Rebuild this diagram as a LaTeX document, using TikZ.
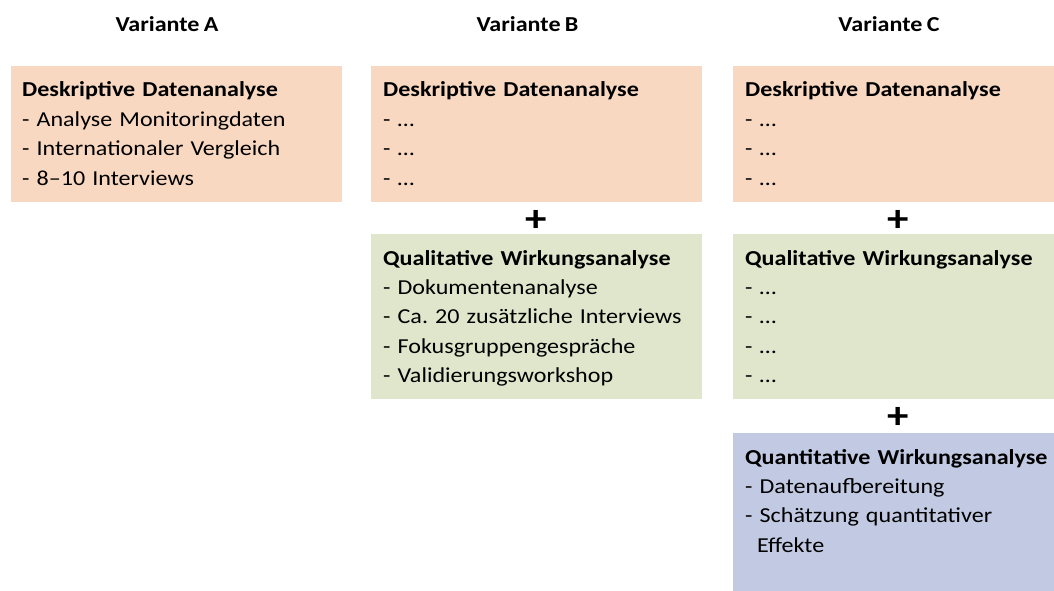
\documentclass[tikz,border=0pt]{standalone}
\usepackage{fontspec}
\setmainfont{Carlito}[FakeStretch=1.13, WordSpace=0.8]
\frenchspacing
\definecolor{peach}{HTML}{F8D8C1}
\definecolor{sage}{HTML}{DFE6CB}
\definecolor{lavender}{HTML}{C1CAE2}
\begin{document}
\begin{tikzpicture}[x=1pt,y=-1pt,
  panel/.style={fill=#1, draw=none, inner sep=0pt, anchor=north west},
  body/.style={inner sep=0pt, anchor=base west, align=left, text width=320pt,
    font=\fontsize{21.3}{29.4}\selectfont},
  heading/.style={inner sep=0pt, anchor=base, font=\fontsize{21.3}{26}\selectfont\bfseries},
  plus/.style={inner sep=0pt, anchor=center, font=\fontsize{38}{38}\selectfont\bfseries}]
\useasboundingbox (0,0) rectangle (1054,591);

% column headings
\node[heading] (ha) at (167,32) {Variante A};
\node[heading] (hb) at (527.5,32) {Variante B};
\node[heading] (hc) at (889,32) {Variante C};

% Variante A
\node[panel=peach, minimum width=331pt, minimum height=136pt] (a1) at (11,66) {};
\node[body] (ta1) at ([xshift=11pt,yshift=-31pt]a1.north west)
  {\textbf{Deskriptive Datenanalyse}\\- Analyse Monitoringdaten\\- Internationaler Vergleich\\- 8–10 Interviews};

% Variante B
\node[panel=peach, minimum width=331pt, minimum height=136pt] (b1) at (371,66) {};
\node[body] (tb1) at ([xshift=12pt,yshift=-31pt]b1.north west)
  {\textbf{Deskriptive Datenanalyse}\\- …\\- …\\- …};
\node[plus] (pb) at (536,221) {+};
\node[panel=sage, minimum width=331pt, minimum height=165pt] (b2) at (371,234) {};
\node[body] (tb2) at ([xshift=12pt,yshift=-31pt]b2.north west)
  {\textbf{Qualitative Wirkungsanalyse}\\- Dokumentenanalyse\\- Ca. 20 zusätzliche Interviews\\- Fokusgruppengespräche\\- Validierungsworkshop};

% Variante C
\node[panel=peach, minimum width=321pt, minimum height=136pt] (c1) at (733,66) {};
\node[body] (tc1) at ([xshift=12pt,yshift=-31pt]c1.north west)
  {\textbf{Deskriptive Datenanalyse}\\- …\\- …\\- …};
\node[plus] (pc1) at (898.5,221) {+};
\node[panel=sage, minimum width=321pt, minimum height=165pt] (c2) at (733,234) {};
\node[body] (tc2) at ([xshift=12pt,yshift=-31pt]c2.north west)
  {\textbf{Qualitative Wirkungsanalyse}\\- …\\- …\\- …\\- …};
\node[plus] (pc2) at (898.5,418) {+};
\node[panel=lavender, minimum width=321pt, minimum height=158pt] (c3) at (733,433) {};
\node[body] (tc3) at ([xshift=12pt,yshift=-31pt]c3.north west)
  {\textbf{Quantitative Wirkungsanalyse}\\- Datenaufbereitung\\- Schätzung quantitativer\\\hspace*{12pt}Effekte};
\end{tikzpicture}
\end{document}
